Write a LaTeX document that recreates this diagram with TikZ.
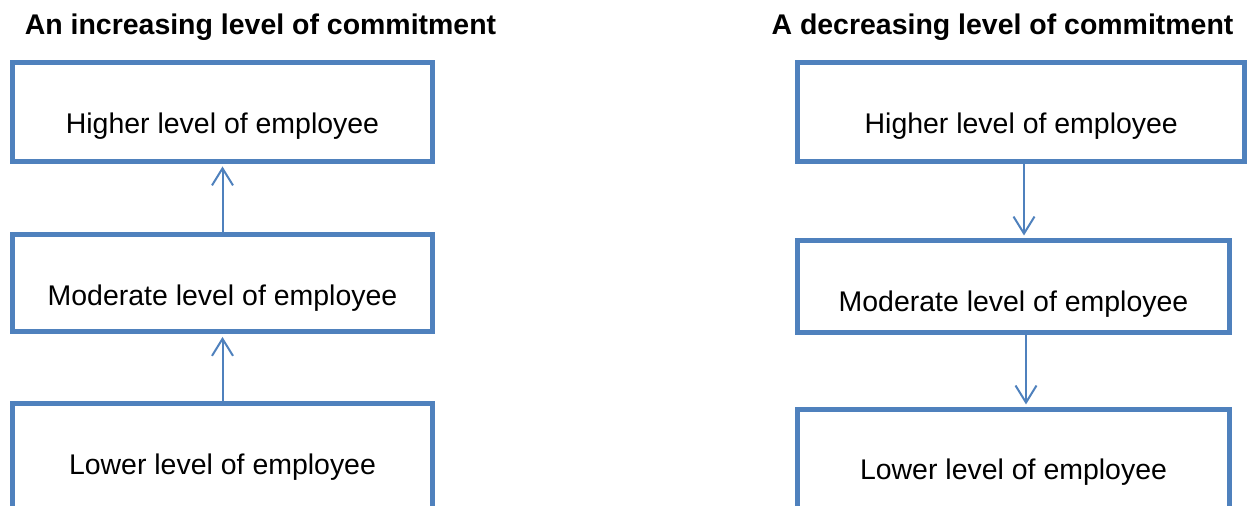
\documentclass[tikz,border=0pt]{standalone}
\usepackage{fontspec}
\setmainfont{Liberation Sans}
\usetikzlibrary{arrows.meta, positioning}
\definecolor{boxblue}{HTML}{4F81BD}

\begin{document}
\begin{tikzpicture}[
    x=0.02cm, y=-0.02cm,
    tierbox/.style={draw=boxblue, line width=0.1cm, rectangle, inner sep=0pt, outer sep=0pt, text height=1.42cm, text depth=0.56cm, font=\fontsize{16.2}{19}\selectfont},
    heading/.style={anchor=base, font=\fontsize{16.2}{19}\selectfont\bfseries},
    flow/.style={-{Straight Barb[length=0.34cm, width=0.42cm]}, color=boxblue, line width=0.04cm, shorten >=0.1cm}
  ]
    \path[use as bounding box, clip] (0,0) rectangle (1247,506);

    \node[heading] (inctitle) at (260.5,35) {An increasing level of commitment};
    \node[heading] (dectitle) at (1002.5,35) {A decreasing level of commitment};

    \node[tierbox, minimum width=8.4cm, anchor=north] (ih) at (222.5,62.5) {Higher level of employee};
    \node[tierbox, minimum width=8.4cm, below=1.46cm of ih, text depth=0.53cm] (im) {Moderate level of employee};
    \node[tierbox, minimum width=8.4cm, below=1.44cm of im, text depth=1.2cm] (il) {Lower level of employee};

    \node[tierbox, minimum width=8.95cm, anchor=north] (dh) at (1021.25,62.5) {Higher level of employee};
    \node[tierbox, minimum width=8.64cm, below=1.58cm of dh.south west, anchor=north west, text depth=0.43cm] (dm) {Moderate level of employee};
    \node[tierbox, minimum width=8.64cm, below=1.53cm of dm, text height=1.40cm, text depth=1.2cm] (dl) {Lower level of employee};

    \draw[flow] (im.north) -- (ih.south);
    \draw[flow] (il.north) -- (im.south);
    \draw[flow] ([xshift=0.055cm]dh.south) coordinate (d1) -- (d1 |- dm.north);
    \draw[flow] ([xshift=0.25cm]dm.south) coordinate (d2) -- (d2 |- dl.north);
  \end{tikzpicture}
\end{document}
